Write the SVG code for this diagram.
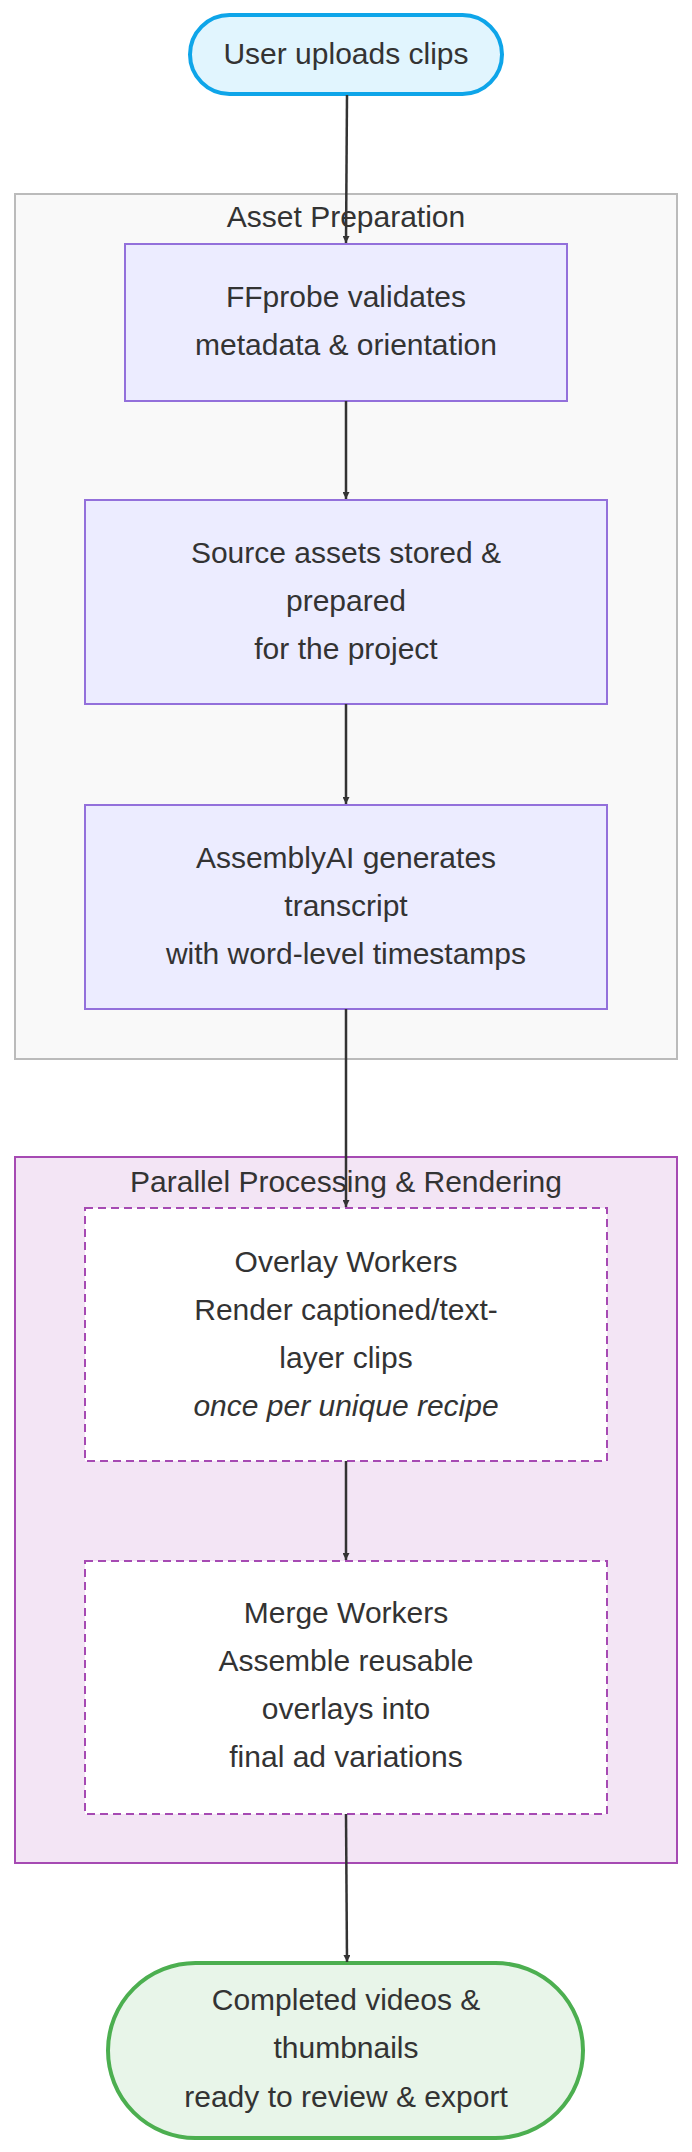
<svg xmlns="http://www.w3.org/2000/svg" width="692" height="2152" viewBox="0 0 692 2152">
<style>
text{font-family:"Liberation Sans",Arial,sans-serif;font-size:30px;fill:#333;text-anchor:middle}
.n{fill:#ececff;stroke:#9370db;stroke-width:2}
.d{fill:#fff;stroke:#a64ab3;stroke-width:2;stroke-dasharray:8 5}
.e{fill:none;stroke:#333;stroke-width:2.5}
</style>
<defs><marker id="a" viewBox="0 0 10 10" refX="10" refY="5" markerWidth="7" markerHeight="7" markerUnits="userSpaceOnUse" orient="auto"><path d="M0,0L10,5L0,10z" fill="#333"/></marker></defs>
<rect width="692" height="2152" fill="#fff"/>
<g id="cluster1"><rect x="15" y="194" width="662" height="865" fill="#f9f9f9" stroke="#bbb" stroke-width="2"/><text x="346" y="227">Asset Preparation</text></g>
<g id="cluster2"><rect x="15" y="1157" width="662" height="706" fill="#f3e5f5" stroke="#a64ab3" stroke-width="2"/><text x="346" y="1192">Parallel Processing &amp; Rendering</text></g>
<g id="start"><rect x="190" y="15" width="312" height="79" rx="39.5" fill="#e1f5fe" stroke="#0ea5e9" stroke-width="4"/><text x="346" y="64">User uploads clips</text></g>
<g id="ffprobe"><rect class="n" x="125" y="244" width="442" height="157"/><text x="346" y="307">FFprobe validates</text><text x="346" y="355">metadata &amp; orientation</text></g>
<g id="source"><rect class="n" x="85" y="500" width="522" height="204"/><text x="346" y="563">Source assets stored &amp;</text><text x="346" y="611">prepared</text><text x="346" y="659">for the project</text></g>
<g id="assembly"><rect class="n" x="85" y="805" width="522" height="204"/><text x="346" y="868">AssemblyAI generates</text><text x="346" y="916">transcript</text><text x="346" y="964">with word-level timestamps</text></g>
<g id="overlay"><rect class="d" x="85" y="1208" width="522" height="253"/><text x="346" y="1272">Overlay Workers</text><text x="346" y="1320">Render captioned/text-</text><text x="346" y="1368">layer clips</text><text x="346" y="1416" font-style="italic">once per unique recipe</text></g>
<g id="merge"><rect class="d" x="85" y="1561" width="522" height="253"/><text x="346" y="1623">Merge Workers</text><text x="346" y="1671">Assemble reusable</text><text x="346" y="1719">overlays into</text><text x="346" y="1767">final ad variations</text></g>
<g id="end"><rect x="108" y="1963" width="475" height="175" rx="87.5" fill="#e8f5e9" stroke="#4caf50" stroke-width="4"/><text x="346" y="2010">Completed videos &amp;</text><text x="346" y="2058">thumbnails</text><text x="346" y="2107">ready to review &amp; export</text></g>
<g id="edges">
<path class="e" d="M347,95L346,243" marker-end="url(#a)"/>
<path class="e" d="M346,401V499" marker-end="url(#a)"/>
<path class="e" d="M346,704V804" marker-end="url(#a)"/>
<path class="e" d="M346,1009V1207" marker-end="url(#a)"/>
<path class="e" d="M346,1461V1560" marker-end="url(#a)"/>
<path class="e" d="M346,1814L347,1962" marker-end="url(#a)"/>
</g>
</svg>
